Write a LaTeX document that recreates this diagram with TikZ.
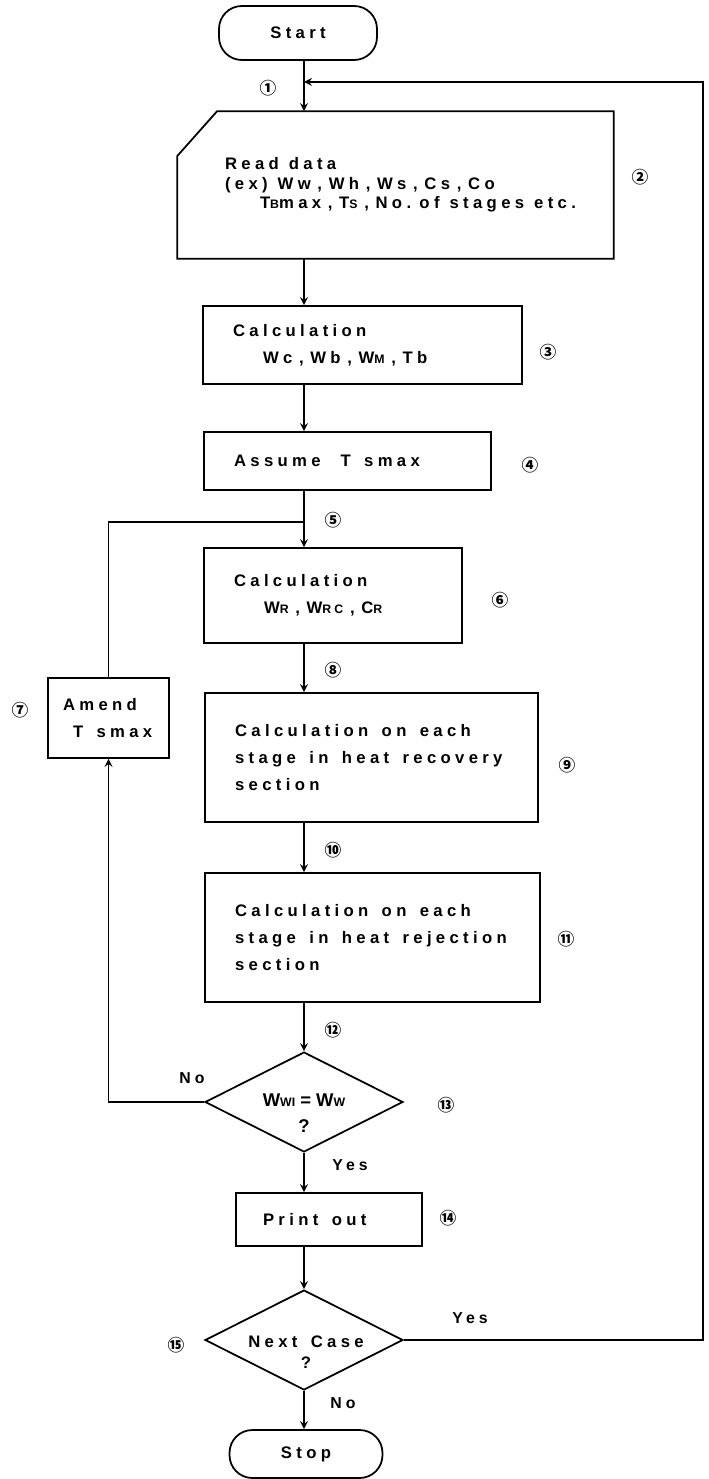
\documentclass[tikz,border=0pt]{standalone}
\usepackage{fontspec}
\usepackage{tikz}
\usetikzlibrary{calc,arrows,shapes.geometric}
\newfontfamily\boxfont[LetterSpace=26]{Liberation Sans}
\newfontfamily\plainfont{Liberation Sans}
\newfontfamily\numfont{Noto Sans CJK SC}
\newcommand{\sm}[1]{{\fontsize{7}{7}\selectfont #1}}
\newcommand{\sep}{\hspace{0.4em},\hspace{0.4em}}
\newcommand{\wide}{\spaceskip=0.8em plus 0.1em\relax}

\begin{document}
\begin{tikzpicture}[x=0.02cm,y=-0.02cm,>=stealth,line width=1pt,
	box/.style={draw,align=left,inner ysep=0pt,inner xsep=0.6cm,execute at begin node=\wide,
		font=\boxfont\bfseries\fontsize{9.5}{15.3}\selectfont},
	term/.style={draw,rounded corners=13pt,font=\boxfont\bfseries\fontsize{9.5}{12}\selectfont},
	test/.style={draw,diamond,aspect=2,inner sep=0pt,minimum width=3.96cm,minimum height=2cm},
	num/.style={font=\numfont\bfseries\fontsize{9.5}{9.5}\selectfont},
	lbl/.style={font=\boxfont\bfseries\fontsize{9}{9}\selectfont}]
			\useasboundingbox (0,0) rectangle (708,1479);
			
			\coordinate (M) at (304,0);
			\coordinate (F) at (703,82);
			\coordinate (J) at (304,522);
			
			\node[term,minimum width=3.16cm,minimum height=1.08cm] (S) at (298,33) {Start};
			\node[box,inner xsep=0.5cm,text width=7.7cm,minimum height=2.92cm,draw=none,
				execute at begin node={\spaceskip=0.6em\relax\leftskip=0.44cm},
				font=\boxfont\bfseries\fontsize{9.5}{11}\selectfont] (R) at (395.5,185)
				{Read data\\(ex) Ww\sep Wh\sep Ws\sep Cs\sep Co\\\hspace{0.7cm}T\sm{B}max\sep T\sm{S}\sep No. of stages etc.};
			\draw (R.north east) -- (R.south east) -- (R.south west) -- ($(R.north west)+(0,45)$)
				-- ($(R.north west)+(40,0)$) -- cycle;
			\node[box,text width=5.18cm,minimum height=1.56cm] (C1) at (362.5,345)
				{Calculation\\\hspace{0.6cm}Wc\sep Wb\sep W\sm{M}\sep Tb};
			\node[box,text width=4.54cm,minimum height=1.16cm] (A) at (347.5,461) {Assume\hspace{0.4cm}T smax};
			\node[box,text width=3.96cm,minimum height=1.9cm] (C2) at (333,595.5)
				{Calculation\\\hspace{0.6cm}W\sm{R}\sep W\sm{RC}\sep C\sm{R}};
			\node[box,inner xsep=0.3cm,text width=1.82cm,minimum height=1.6cm] (AM) at (108.5,718)
				{Amend\\\hspace{0.2cm}T smax};
			\node[box,text width=5.46cm,minimum height=2.58cm] (C3) at (371.5,757.5)
				{Calculation on each\\stage in heat recovery\\section};
			\node[box,text width=5.5cm,minimum height=2.58cm] (C4) at (372.5,937.5)
				{Calculation on each\\stage in heat rejection\\section};
			\node[test] (D1) at (304,1102) {};
			\node[align=center,font=\plainfont\bfseries\fontsize{10.5}{15}\selectfont] (q1) at (304,1113)
				{W\sm{WI} = W\sm{W}\\?};
			\node[box,inner xsep=0.54cm,text width=2.64cm,minimum height=1.06cm] (P) at (329,1219.5) {Print out};
			\node[test] (D2) at (304,1340) {};
			\node[align=center,font=\boxfont\bfseries\fontsize{9.5}{12}\selectfont\wide] (q2) at (306,1352)
				{Next Case\\?};
			\node[term,minimum width=3.06cm,minimum height=0.96cm] (E) at (306,1454) {Stop};
			
			% main line
			\draw[->] (S.south -| M) -- (R.north -| M);
			\draw[->] (R.south -| M) -- (C1.north -| M);
			\draw[->] (C1.south -| M) -- (A.north -| M);
			\draw[->] (A.south -| M) -- (C2.north -| M);
			\draw[->] (C2.south -| M) -- (C3.north -| M);
			\draw[->] (C3.south -| M) -- (C4.north -| M);
			\draw[->] (C4.south -| M) -- (D1.north);
			\draw[->] (D1.south) -- (P.north -| M);
			\draw[->] (P.south -| M) -- (D2.north);
			\draw[->] (D2.south) -- (E.north -| M);
			
			% loops
			\draw[->] (D1.west) -| (AM.south);
			\draw (AM.north) |- (J);
			\draw[->] (D2.east) -- (D2.east -| F) -- (F) -- (F -| M);
			
			\node[lbl] (no1) at (192,1078) {No};
			\node[lbl] (yes1) at (350,1165) {Yes};
			\node[lbl] (yes2) at (470,1318) {Yes};
			\node[lbl] (no2) at (343,1403) {No};
			
			\node[num] (n1) at (268,88) {①};
			\node[num] (n2) at (640,177) {②};
			\node[num] (n3) at (548,352) {③};
			\node[num] (n4) at (530,465) {④};
			\node[num] (n5) at (333,520) {⑤};
			\node[num] (n6) at (500,600) {⑥};
			\node[num] (n7) at (20,710) {⑦};
			\node[num] (n8) at (333,670) {⑧};
			\node[num] (n9) at (567,765) {⑨};
			\node[num] (n10) at (333,850) {⑩};
			\node[num] (n11) at (566,939) {⑪};
			\node[num] (n12) at (333,1030) {⑫};
			\node[num] (n13) at (446,1105) {⑬};
			\node[num] (n14) at (448,1218) {⑭};
			\node[num] (n15) at (176,1345) {⑮};
		\end{tikzpicture}
\end{document}
